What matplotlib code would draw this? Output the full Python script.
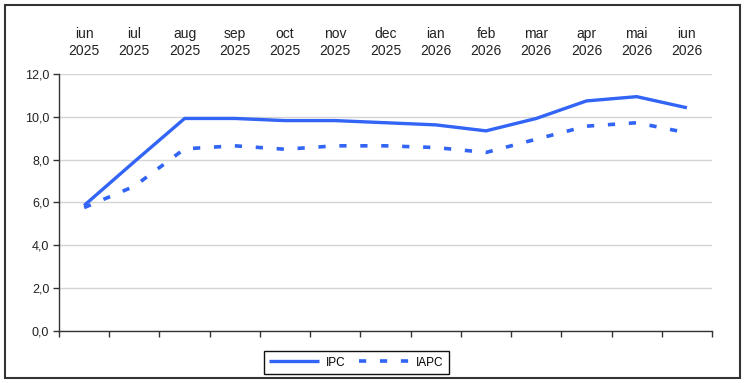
import matplotlib.pyplot as plt
from matplotlib.patches import Rectangle
from matplotlib.ticker import FuncFormatter

plt.rcParams['font.family'] = ['Liberation Sans', 'DejaVu Sans']

months = ["iun", "iul", "aug", "sep", "oct", "nov", "dec",
          "ian", "feb", "mar", "apr", "mai", "iun"]
years = ["2025"] * 7 + ["2026"] * 6
ipc = [5.85, 7.9, 9.92, 9.92, 9.82, 9.82, 9.72, 9.62, 9.34, 9.92, 10.74, 10.94, 10.42]
iapc = [5.75, 6.75, 8.5, 8.64, 8.48, 8.64, 8.64, 8.56, 8.33, 8.95, 9.56, 9.72, 9.25]

blue = "#3264F5"
txt = "#222222"

fig = plt.figure(figsize=(7.5, 3.83), dpi=100)
ax = fig.add_axes([0.0787, 0.137, 0.8707, 0.6698])

x = list(range(len(months)))
ax.plot(x, ipc, color=blue, lw=2.4, label="IPC", solid_capstyle="butt")
ax.plot(x, iapc, color=blue, lw=2.6, label="IAPC", linestyle=(0, (2.0, 3.8)))

ax.set_xlim(-0.5, len(months) - 0.5)
ax.set_ylim(0, 12)
ax.set_yticks([0, 2, 4, 6, 8, 10, 12])
ax.yaxis.set_major_formatter(FuncFormatter(lambda v, p: f"{v:.1f}".replace(".", ",")))
ax.grid(axis="y", color="#d4d4d4", lw=1)
ax.set_axisbelow(True)

ax.set_xticks(x)
ax.set_xticklabels([f"{m}\n{y}" for m, y in zip(months, years)])
ax.set_xticks([i - 0.5 for i in range(len(months) + 1)], minor=True)
ax.tick_params(axis="x", which="major", bottom=False, top=False,
               labelbottom=False, labeltop=True, pad=8, labelsize=10,
               labelcolor=txt)
ax.tick_params(axis="x", which="minor", bottom=True, length=4, width=1, color="#333333")
ax.tick_params(axis="y", length=4, width=1, color="#333333", labelsize=9,
               labelcolor=txt, pad=3)
for lab in ax.get_xticklabels():
    lab.set_linespacing(1.25)

for s in ["top", "right"]:
    ax.spines[s].set_visible(False)
for s in ["left", "bottom"]:
    ax.spines[s].set_color("#333333")
    ax.spines[s].set_linewidth(1)

leg = fig.legend(loc="center", bbox_to_anchor=(0.475, 0.0535), ncol=2,
                 fontsize=8.5, handlelength=4.2, columnspacing=1.2,
                 handletextpad=0.6, fancybox=False, framealpha=1,
                 borderpad=0.45)
leg.get_frame().set_edgecolor("#111111")
leg.get_frame().set_linewidth(1)

fig.patches.append(Rectangle((5 / 750, 5 / 383), 735 / 750, 373 / 383,
                             transform=fig.transFigure, fill=False,
                             edgecolor="#333333", lw=1.5))

fig.savefig("out.png", dpi=100)
